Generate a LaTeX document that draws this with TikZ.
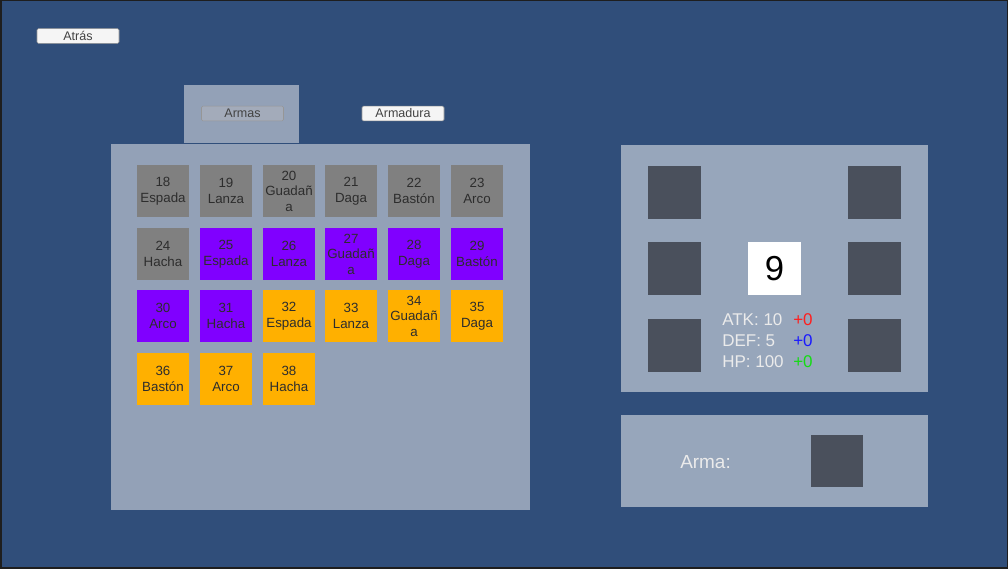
\documentclass[tikz,border=0pt]{standalone}
\usepackage{fontspec}
\setmainfont{Liberation Sans}
\usepackage{xcolor}
\definecolor{frame}{RGB}{30,30,30}
\definecolor{bg}{RGB}{48,78,122}
\definecolor{panel}{RGB}{147,161,183}
\definecolor{panelr}{RGB}{151,166,187}
\definecolor{grey}{RGB}{128,128,128}
\definecolor{purple}{RGB}{128,0,255}
\definecolor{orange}{RGB}{255,176,0}
\definecolor{slotc}{RGB}{74,80,92}
\definecolor{btn}{RGB}{245,245,245}
\definecolor{btnsel}{RGB}{163,171,186}
\definecolor{btnline}{RGB}{150,150,150}
\definecolor{ink}{RGB}{45,45,45}
\definecolor{stat}{RGB}{235,235,235}
\definecolor{plusr}{RGB}{255,30,30}
\definecolor{plusb}{RGB}{25,25,255}
\definecolor{plusg}{RGB}{20,220,20}

\begin{document}
\begin{tikzpicture}[x=0.75pt,y=-0.75pt,
    cell/.style={minimum width=39pt,minimum height=39pt,inner sep=0pt,align=center,
      text=ink,font=\fontsize{10}{11.6}\selectfont},
    g/.style={cell,fill=grey},
    p/.style={cell,fill=purple},
    o/.style={cell,fill=orange},
    slot/.style={fill=slotc,minimum size=39.75pt,inner sep=0pt},
    btnbox/.style={draw=btnline,fill=btn,rounded corners=1pt,minimum width=61.5pt,
      minimum height=11pt,inner sep=0pt,text=ink!90,font=\fontsize{9.4}{10}\selectfont},
    stattxt/.style={anchor=base west,inner sep=0pt,font=\fontsize{12.75}{14}\selectfont}]
    \useasboundingbox (0,0) rectangle (1008,569);
    \fill[frame] (0,0) rectangle (1008,569);
    \fill[bg] (2,1) rectangle (1007,567);

    \node[btnbox] (atras) at (78,36) {Atrás};
    \fill[panel] (184,85) rectangle (299,143);
    \node[btnbox,fill=btnsel] (armas) at (242.5,113.5) {Armas};
    \node[btnbox] (armadura) at (403,113.5) {Armadura};

    \fill[panel] (111,144) rectangle (530,510);
    \node[g] (c18) at (163,191) {18\\Espada};
    \node[g] (c19) at (226,191) {19\\Lanza};
    \node[g] (c20) at (289,191) {20\\Guadañ\\a};
    \node[g] (c21) at (351,191) {21\\Daga};
    \node[g] (c22) at (414,191) {22\\Bastón};
    \node[g] (c23) at (477,191) {23\\Arco};
    \node[g] (c24) at (163,254) {24\\Hacha};
    \node[p] (c25) at (226,254) {25\\Espada};
    \node[p] (c26) at (289,254) {26\\Lanza};
    \node[p] (c27) at (351,254) {27\\Guadañ\\a};
    \node[p] (c28) at (414,254) {28\\Daga};
    \node[p] (c29) at (477,254) {29\\Bastón};
    \node[p] (c30) at (163,316) {30\\Arco};
    \node[p] (c31) at (226,316) {31\\Hacha};
    \node[o] (c32) at (289,316) {32\\Espada};
    \node[o] (c33) at (351,316) {33\\Lanza};
    \node[o] (c34) at (414,316) {34\\Guadañ\\a};
    \node[o] (c35) at (477,316) {35\\Daga};
    \node[o] (c36) at (163,379) {36\\Bastón};
    \node[o] (c37) at (226,379) {37\\Arco};
    \node[o] (c38) at (289,379) {38\\Hacha};

    \fill[panelr] (621,145) rectangle (928,392);
    \node[slot] (s1) at (674.5,192) {};
    \node[slot] (s2) at (874.5,192) {};
    \node[slot] (s3) at (674.5,268.5) {};
    \node[slot] (s4) at (874.5,268.5) {};
    \node[slot] (s5) at (674.5,345.5) {};
    \node[slot] (s6) at (874.5,345.5) {};
    \node[fill=white,minimum size=39.75pt,inner sep=0pt,font=\fontsize{26}{26}\selectfont] (lvl) at (774.5,268.5) {9};
    \node[stattxt,text=stat] (atk) at (722,325) {ATK: 10};
    \node[stattxt,text=stat] (def) at (722,346) {DEF: 5};
    \node[stattxt,text=stat] (hp) at (722,367) {HP: 100};
    \node[stattxt,text=plusr] (atkp) at (793,325) {+0};
    \node[stattxt,text=plusb] (defp) at (793,346) {+0};
    \node[stattxt,text=plusg] (hpp) at (793,367) {+0};

    \fill[panelr] (621,415) rectangle (928,507);
    \node[stattxt,text=stat,font=\fontsize{14.2}{16}\selectfont] (arma) at (680,468) {Arma:};
    \node[slot,minimum size=39pt] (sarma) at (837,461) {};
\end{tikzpicture}
\end{document}
